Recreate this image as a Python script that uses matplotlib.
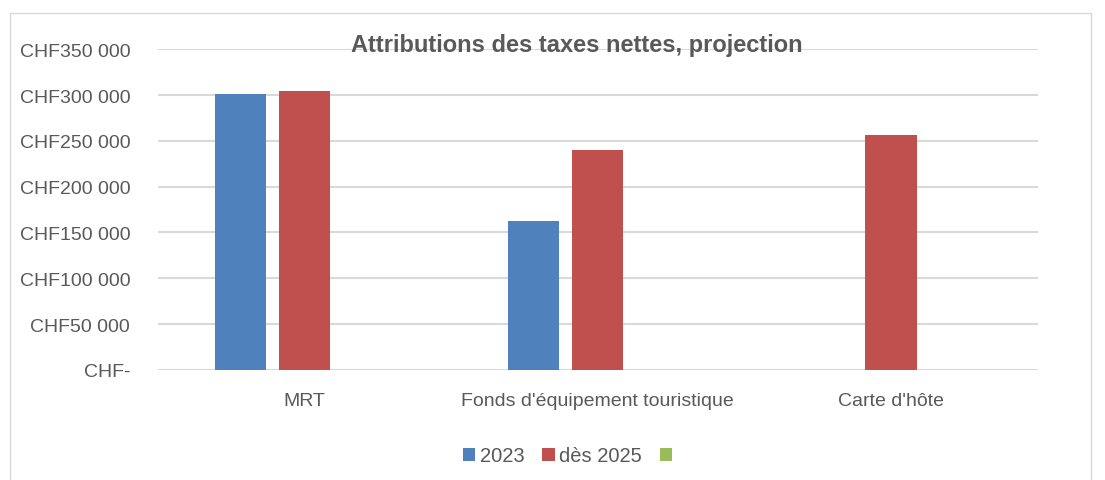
import numpy as np
import matplotlib.pyplot as plt
from matplotlib.patches import Rectangle

plt.rcParams['font.family'] = ['Liberation Sans', 'DejaVu Sans']

categories = ['MRT', "Fonds d'équipement touristique", "Carte d'hôte"]
series_names = ['2023', 'dès 2025', ' ']
values_2023 = [301000, 162000, 0]
values_2025 = [304000, 240000, 256000]
values_3 = [0, 0, 0]
y_ticks = [0, 50000, 100000, 150000, 200000, 250000, 300000, 350000]
y_labels = ['CHF-', 'CHF50 000', 'CHF100 000', 'CHF150 000', 'CHF200 000',
            'CHF250 000', 'CHF300 000', 'CHF350 000']

colors = ['#4F81BD', '#C0504D', '#9BBB59']
grey = '#595959'

fig = plt.figure(figsize=(11.05, 4.81), dpi=100)
ax = fig.add_axes([0.143, 0.2287, 0.796, 0.667])

x = np.arange(len(categories))
w = 0.174
step = 0.22
all_vals = [values_2023, values_2025, values_3]
for i, (vals, name) in enumerate(zip(all_vals, series_names)):
    ax.bar(x + (i - 1) * step, vals, width=w, color=colors[i], label=name, zorder=3)

ax.set_xlim(-0.5, 2.5)
ax.set_ylim(0, 350000)
ax.set_yticks(y_ticks)
ax.set_yticklabels(y_labels, fontsize=14, color=grey)
ax.set_xticks(x)
ax.set_xticklabels(categories, fontsize=14, color=grey)
ax.tick_params(length=0, axis='y', pad=20)
ax.tick_params(length=0, axis='x', pad=16)
ax.grid(axis='y', color='#d9d9d9', linewidth=1.5, zorder=0)
for s in ax.spines.values():
    s.set_visible(False)

fig.text(0.522, 0.905, 'Attributions des taxes nettes, projection', ha='center', va='center',
         fontsize=17, fontweight='bold', color=grey)

leg = fig.legend(loc='center', bbox_to_anchor=(0.518, 0.05), ncol=3, frameon=False,
                 fontsize=14.5, handlelength=0.62, handleheight=0.62, handletextpad=0.2,
                 columnspacing=0.9)
for t in leg.get_texts():
    t.set_color(grey)

fig.patches.append(Rectangle((0.009, -0.05), 0.978, 1.02, transform=fig.transFigure,
                             fill=False, edgecolor='#d9d9d9', linewidth=1))

fig.savefig('out.png', dpi=100)
